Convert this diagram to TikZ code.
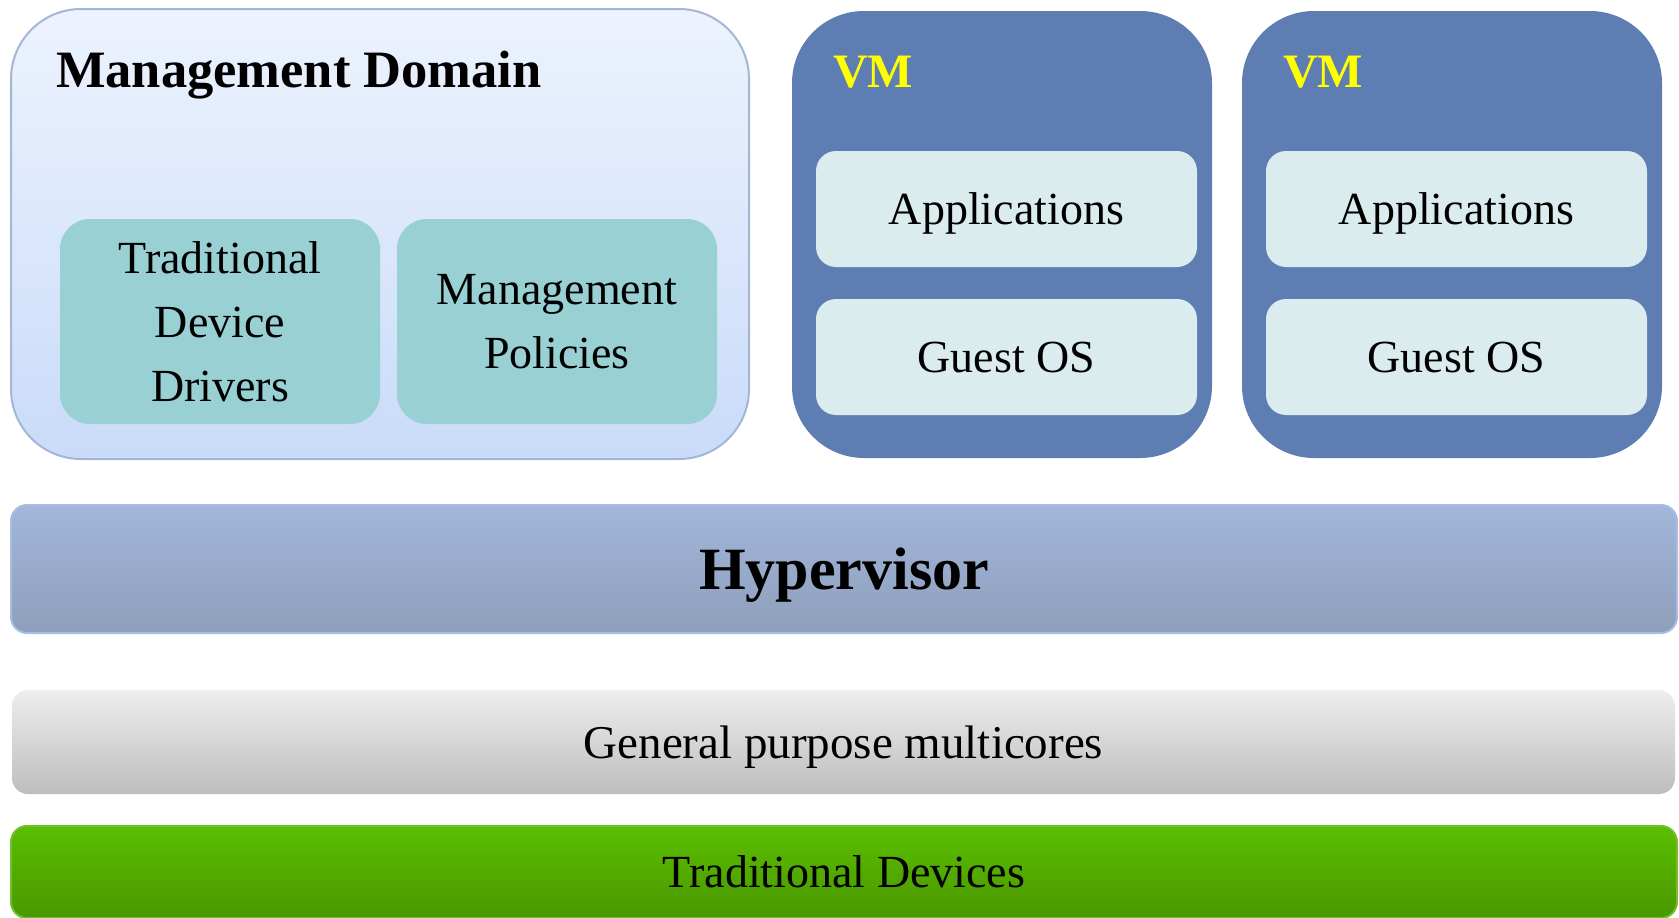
\documentclass[tikz,border=0pt]{standalone}
\usepackage{fontspec}
\setmainfont{Liberation Serif}
\definecolor{mdtop}{HTML}{EDF3FE}
\definecolor{mdbot}{HTML}{C9DBF9}
\definecolor{mdborder}{HTML}{A4B6D6}
\definecolor{tealfill}{HTML}{98D0D4}
\definecolor{vmfill}{HTML}{5E7DB2}
\definecolor{vminner}{HTML}{DAECEE}
\definecolor{vmtitle}{HTML}{FFFF00}
\definecolor{hvtop}{HTML}{A2B6DB}
\definecolor{hvbot}{HTML}{8E9FBA}
\definecolor{hvborder}{HTML}{A9BDE2}
\definecolor{gptop}{HTML}{EEEEEE}
\definecolor{gpbot}{HTML}{BDBDBD}
\definecolor{tdtop}{HTML}{5BBE00}
\definecolor{tdbot}{HTML}{4A9700}
\definecolor{tdborder}{HTML}{6FC02C}
\begin{document}
\begin{tikzpicture}[x=1pt,y=-1pt,
  every node/.style={inner sep=0pt, outer sep=0pt, align=center},
  domainbox/.style={draw=mdborder, line width=2pt, top color=mdtop, bottom color=mdbot,
    rounded corners=70pt, minimum width=738pt, minimum height=450pt},
  tealbox/.style={fill=tealfill, rounded corners=30pt, minimum width=320pt, minimum height=205pt,
    font=\fontsize{46}{64}\selectfont},
  vmbox/.style={fill=vmfill, rounded corners=72pt, minimum width=420pt, minimum height=447pt},
  vmlayer/.style={fill=vminner, rounded corners=20pt, minimum width=381pt, minimum height=116pt,
    text depth=0pt, font=\fontsize{46}{56}\selectfont},
  titletext/.style={anchor=base west, font=\fontsize{52.5}{60}\selectfont\bfseries},
  vmtitletext/.style={anchor=base west, text=vmtitle, font=\fontsize{48}{56}\selectfont\bfseries},
  bar/.style={rounded corners=16pt, minimum width=1666pt, text depth=0pt},
]
\useasboundingbox (0,0) rectangle (1679,918);

% Management domain with its two service boxes
\node[domainbox] (md) at (380,234) {};
\node[titletext] (mdtitle) at (56,87) {Management Domain};
\node[tealbox] (tdd) at (220,321.5) {Traditional\\Device\\Drivers};
\node[tealbox] (mp) at (557,321.5) {Management\\Policies};

% Guest virtual machines
\node[vmbox] (vm1) at (1002,234.5) {};
\node[vmtitletext] (vm1title) at (833,87) {VM};
\node[vmlayer] (apps1) at (1006.5,209) {Applications};
\node[vmlayer] (os1) at (1006.5,357) {Guest OS};

\node[vmbox] (vm2) at (1452,234.5) {};
\node[vmtitletext] (vm2title) at (1283,87) {VM};
\node[vmlayer] (apps2) at (1456.5,209) {Applications};
\node[vmlayer] (os2) at (1456.5,357) {Guest OS};

% Hypervisor and hardware layers
\node[bar, draw=hvborder, line width=2pt, top color=hvtop, bottom color=hvbot,
  minimum height=128pt, font=\fontsize{60}{70}\selectfont\bfseries] (hv) at (844,569) {Hypervisor};
\node[bar, top color=gptop, bottom color=gpbot, minimum width=1663pt,
  minimum height=104pt, font=\fontsize{47}{56}\selectfont] (gp) at (843.5,742) {General purpose multicores};
\node[bar, draw=tdborder, line width=2pt, top color=tdtop, bottom color=tdbot,
  minimum height=92pt, font=\fontsize{46}{56}\selectfont] (td) at (844,872) {Traditional Devices};
\end{tikzpicture}
\end{document}
